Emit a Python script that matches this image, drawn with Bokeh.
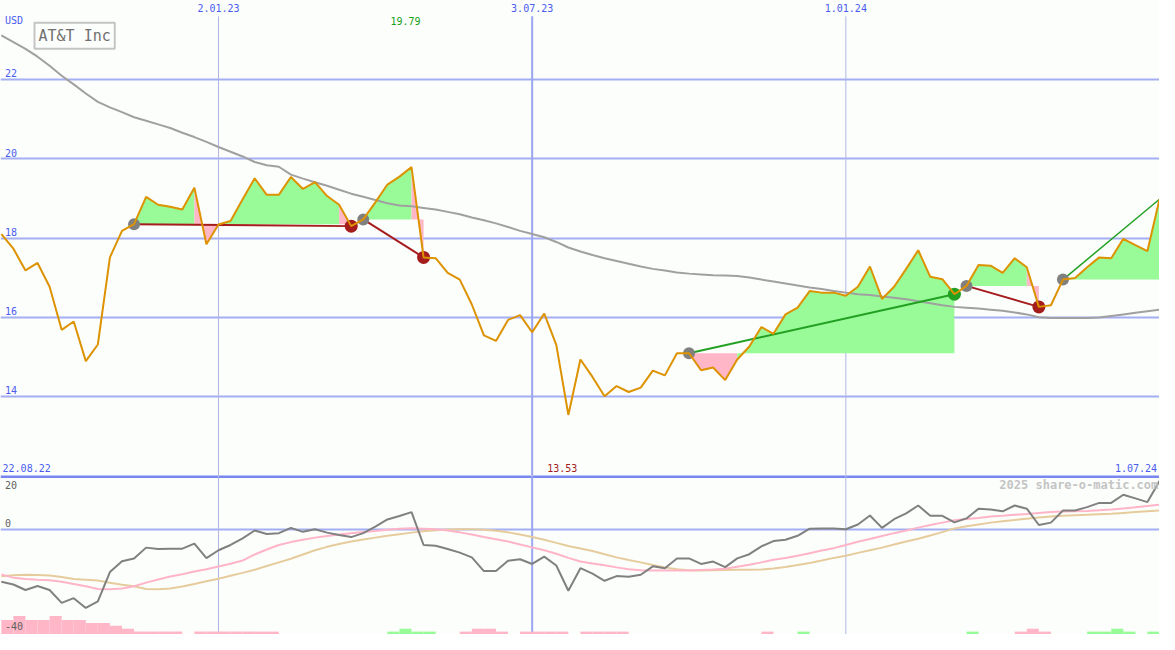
from bokeh.plotting import figure
from bokeh.models import Range1d, Grid, FixedTicker, Label
from bokeh.layouts import column
from bokeh.embed import file_html
from bokeh.resources import INLINE
from bokeh.core.properties import value

# ---------------- data (weekly points, index k = 0..96) ----------------
title = "AT&T Inc"
currency = "USD"
first_date = "22.08.22"
last_date = "1.07.24"
date_tick_k = [18, 44, 70]
date_tick_labels = ["2.01.23", "3.07.23", "1.01.24"]
price_ticks = [14, 16, 18, 20, 22]
osc_ticks = [20, 0, -40]
watermark = "2025 share-o-matic.com"

price = [18.10, 17.73, 17.18, 17.37, 16.77, 15.68, 15.89, 14.89, 15.31, 17.51,
         18.18, 18.35, 19.04, 18.84, 18.79, 18.72, 19.27, 17.84, 18.34, 18.43,
         18.98, 19.51, 19.09, 19.09, 19.54, 19.24, 19.41, 19.06, 18.84, 18.30,
         18.47, 18.90, 19.35, 19.55, 19.79, 17.51, 17.49, 17.12, 16.95, 16.32,
         15.54, 15.40, 15.93, 16.05, 15.62, 16.09, 15.30, 13.53, 14.93, 14.49,
         14.00, 14.26, 14.11, 14.22, 14.65, 14.53, 15.09, 15.09, 14.66, 14.73,
         14.41, 14.93, 15.26, 15.75, 15.58, 16.07, 16.24, 16.66, 16.62, 16.62,
         16.54, 16.77, 17.28, 16.46, 16.77, 17.22, 17.69, 17.02, 16.96, 16.58,
         16.79, 17.32, 17.30, 17.12, 17.49, 17.26, 16.26, 16.30, 16.95, 16.99,
         17.26, 17.51, 17.49, 17.98, 17.82, 17.67, 18.98]

ma = [23.12, 22.95, 22.78, 22.58, 22.35, 22.10, 21.88, 21.65, 21.44, 21.30,
      21.18, 21.05, 20.96, 20.87, 20.78, 20.66, 20.55, 20.43, 20.30, 20.18,
      20.06, 19.92, 19.84, 19.80, 19.60, 19.50, 19.41, 19.32, 19.22, 19.12,
      19.04, 18.96, 18.88, 18.82, 18.80, 18.76, 18.72, 18.66, 18.60, 18.52,
      18.45, 18.37, 18.28, 18.18, 18.10, 18.02, 17.90, 17.76, 17.66, 17.57,
      17.49, 17.42, 17.35, 17.28, 17.22, 17.18, 17.13, 17.10, 17.08, 17.06,
      17.05, 17.04, 17.00, 16.95, 16.90, 16.85, 16.80, 16.75, 16.71, 16.66,
      16.62, 16.58, 16.56, 16.52, 16.49, 16.45, 16.40, 16.35, 16.30, 16.26,
      16.24, 16.22, 16.19, 16.16, 16.12, 16.07, 16.00, 15.98, 15.98, 15.98,
      15.98, 15.99, 16.03, 16.07, 16.11, 16.15, 16.19]

osc = [-20.0, -21.0, -23.1, -21.6, -23.1, -28.0, -26.2, -29.9, -27.4, -16.3,
       -12.2, -11.1, -7.0, -7.5, -7.4, -7.4, -5.5, -11.0, -8.0, -6.0,
       -3.5, -0.5, -1.8, -1.5, 0.5, -1.0, 0.0, -1.3, -2.2, -3.0,
       -1.5, 1.0, 3.7, 5.0, 6.5, -6.0, -6.3, -7.5, -8.9, -10.7,
       -15.9, -15.9, -12.0, -11.4, -13.2, -10.4, -13.8, -23.4, -14.8, -16.9,
       -19.6, -17.8, -18.1, -17.3, -14.1, -14.8, -11.1, -11.1, -13.2, -12.3,
       -14.4, -11.1, -9.5, -6.5, -4.5, -4.0, -2.5, 0.2, 0.3, 0.3,
       0.0, 1.8, 5.2, 0.5, 3.8, 6.0, 9.0, 5.1, 5.1, 2.6,
       4.1, 7.8, 7.5, 6.8, 9.0, 7.8, 1.6, 2.5, 7.1, 7.1,
       8.4, 10.0, 10.0, 13.1, 11.7, 10.3, 18.3]

signal_fast = [-17.2, -18.4, -18.9, -19.2, -19.4, -20.0, -20.8, -21.7, -22.7, -22.8,
               -22.5, -21.7, -20.3, -19.1, -18.0, -17.1, -16.1, -15.2, -14.2, -13.1,
               -11.9, -9.6, -7.7, -6.0, -4.9, -4.0, -3.2, -2.6, -2.0, -1.5,
               -1.1, -0.7, -0.2, 0.2, 0.4, 0.2, 0.0, -0.5, -1.2, -2.0,
               -3.0, -3.8, -4.7, -5.8, -6.9, -8.0, -9.3, -10.9, -12.3, -13.0,
               -13.7, -14.5, -15.2, -15.6, -15.7, -15.7, -15.7, -15.7, -15.5, -15.3,
               -15.0, -14.3, -13.5, -12.6, -11.6, -10.9, -10.1, -9.1, -8.1, -7.2,
               -6.0, -4.8, -3.7, -2.6, -1.5, -0.5, 0.6, 1.6, 2.5, 3.4,
               3.9, 4.3, 4.8, 5.1, 5.5, 5.8, 6.2, 6.5, 6.7, 6.8,
               6.9, 7.2, 7.5, 7.9, 8.3, 8.8, 9.3]

signal_slow = [-17.9, -17.5, -17.3, -17.4, -17.6, -18.2, -18.9, -19.2, -19.5, -20.3,
               -21.1, -21.7, -22.7, -22.8, -22.5, -21.8, -20.8, -19.8, -18.8, -17.7,
               -16.6, -15.4, -14.0, -12.6, -11.2, -9.6, -8.0, -6.7, -5.6, -4.7,
               -3.9, -3.2, -2.5, -1.9, -1.3, -0.8, -0.4, -0.1, 0.0, 0.0,
               -0.2, -0.6, -1.2, -2.0, -3.0, -4.0, -5.2, -6.4, -7.3, -8.3,
               -9.5, -10.7, -11.7, -12.6, -13.6, -14.5, -15.2, -15.6, -15.7, -15.6,
               -15.5, -15.4, -15.4, -15.3, -14.9, -14.4, -13.6, -12.8, -11.9, -10.9,
               -10.1, -9.0, -8.0, -7.0, -5.8, -4.7, -3.6, -2.4, -1.1, 0.3,
               1.1, 1.8, 2.5, 3.0, 3.5, 4.0, 4.4, 4.8, 5.1, 5.3,
               5.5, 5.7, 5.9, 6.2, 6.5, 6.8, 7.1]

# histogram bars at the bottom (positive = green, negative = pink), one per week
hist = [-5.5, -7.0, -5.5, -5.5, -7.0, -5.5, -5.5, -4.4, -4.4, -3.3,
        -2.2, -1.1, -1.1, -1.1, -1.1, 0, -1.1, -1.1, -1.1, -1.1,
        -1.1, -1.1, -1.1, 0, 0, 0, 0, 0, 0, 0,
        0, 0, 1.1, 2.2, 1.1, 1.1, 0, 0, -1.1, -2.2,
        -2.2, -1.1, 0, -1.1, -1.1, -1.1, -1.1, 0, -1.1, -1.1,
        -1.1, -1.1, 0, 0, 0, 0, 0, 0, 0, 0,
        0, 0, 0, -1.1, 0, 0, 1.1, 0, 0, 0,
        0, 0, 0, 0, 0, 0, 0, 0, 0, 0,
        1.1, 0, 0, 0, -1.1, -2.2, -1.1, 0, 0, 0,
        1.1, 1.1, 2.2, 1.1, 0, 1.1]

# trades: entry index, exit index (last one still open)
trade_entry = [11, 30, 57, 80, 88]
trade_exit = [29, 35, 79, 86, 96]
last_trade_open = True

# ---------------- styling ----------------
BG = "#fcfefc"
GRID = "#a4aef2"
VGRID_THIN = "#b0b6e4"
VGRID_MID = "#9aa6f0"
LBL = "#4a5cf0"
GREEN_FILL = "#98fb98"
PINK_FILL = "#ffb6c6"
WIN = "#22a022"
LOSS = "#a41c1c"
MONO = "DejaVu Sans Mono"

W = 1159
H1 = 475
H2 = 159
N = len(price)
xr = (-0.07, N - 1.0)

# ---------------- main panel ----------------
p = figure(width=W, height=H1, x_range=Range1d(*xr), y_range=Range1d(12, 24),
           output_backend="svg", toolbar_location=None,
           x_axis_location=None, y_axis_location=None, min_border=0,
           background_fill_color=BG, border_fill_color=BG, outline_line_color=None)
p.center = [c for c in p.center if not isinstance(c, Grid)]
p.add_layout(Grid(dimension=1, ticker=FixedTicker(ticks=price_ticks),
                  grid_line_color=GRID, grid_line_width=2))
top_of_vlines = 23.6
vw = [1, 2, 1]
vc = [VGRID_THIN, VGRID_MID, VGRID_THIN]
p.segment(x0=date_tick_k, y0=[12] * 3, x1=date_tick_k, y1=[top_of_vlines] * 3,
          line_color=vc, line_width=vw)

# fills between price and entry level: one polygon per run of same-coloured weeks
xs, ys, cols = [], [], []
for e, x in zip(trade_entry, trade_exit):
    lvl = price[e]
    j = e
    while j < x:
        up = price[j + 1] >= lvl
        m = j
        while m + 1 < x and (price[m + 2] >= lvl) == up:
            m += 1
        px = list(range(j, m + 2))
        py = [price[i] for i in px]
        xs.append(px + [m + 1, j])
        ys.append(py + [lvl, lvl])
        cols.append(GREEN_FILL if up else PINK_FILL)
        j = m + 1
p.patches(xs=xs, ys=ys, fill_color=cols, line_color=None)

# moving average
p.line(list(range(N)), ma, line_color="#a0a0a0", line_width=2)

# trade lines
tcol = [WIN if price[x] >= price[e] else LOSS for e, x in zip(trade_entry, trade_exit)]
tw = [2] * len(trade_entry)
if last_trade_open:
    tw[-1] = 1.5
p.segment(x0=trade_entry, y0=[price[e] for e in trade_entry],
          x1=trade_exit, y1=[price[x] for x in trade_exit],
          line_color=tcol, line_width=tw)

closed = trade_exit[:-1] if last_trade_open else trade_exit
p.scatter(x=trade_entry, y=[price[e] for e in trade_entry], size=12,
          fill_color="#808080", line_color=None)
p.scatter(x=closed, y=[price[x] for x in closed], size=13,
          fill_color=tcol[:len(closed)], line_color=None)

# price
p.line(list(range(N)), price, line_color="#dd9200", line_width=2)

# labels
p.text(x=[0.3] * len(price_ticks), y=[t + 0.16 for t in price_ticks],
       text=[str(t) for t in price_ticks], text_font=value(MONO),
       text_font_size="10px", text_color=LBL, text_align="left", text_baseline="middle")
p.text(x=[0.3], y=[23.5], text=[currency], text_font=value(MONO),
       text_font_size="10px", text_color=LBL, text_align="left", text_baseline="middle")
p.text(x=date_tick_k, y=[23.8] * len(date_tick_k), text=date_tick_labels,
       text_font=value(MONO), text_font_size="10px", text_color=LBL,
       text_align="center", text_baseline="middle")
p.text(x=[0.1], y=[12.2], text=[first_date], text_font=value(MONO),
       text_font_size="10px", text_color=LBL, text_align="left", text_baseline="middle")
p.text(x=[N - 1.2], y=[12.2], text=[last_date], text_font=value(MONO),
       text_font_size="10px", text_color=LBL, text_align="right", text_baseline="middle")
imax = price.index(max(price))
imin = price.index(min(price))
p.text(x=[imax - 0.5], y=[23.48], text=[f"{max(price):.2f}"], text_font=value(MONO),
       text_font_size="10px", text_color="#18a018", text_align="center", text_baseline="middle")
p.text(x=[imin - 0.5], y=[12.2], text=[f"{min(price):.2f}"], text_font=value(MONO),
       text_font_size="10px", text_color=LOSS, text_align="center", text_baseline="middle")

p.add_layout(Label(x=2.75, y=23.11, text=title, text_font=MONO, text_font_size="15px",
                   text_color="#707070", text_baseline="middle", text_align="left",
                   border_line_color="#c4c4c4", border_line_width=2, padding=4))

# ---------------- oscillator panel ----------------
q = figure(width=W, height=H2, x_range=p.x_range, y_range=Range1d(-40, 20.4),
           output_backend="svg", toolbar_location=None,
           x_axis_location=None, y_axis_location=None, min_border=0,
           background_fill_color=BG, border_fill_color=BG, outline_line_color=None)
q.center = [c for c in q.center if not isinstance(c, Grid)]
q.add_layout(Grid(dimension=1, ticker=FixedTicker(ticks=[0]),
                  grid_line_color=GRID, grid_line_width=2))
q.add_layout(Grid(dimension=1, ticker=FixedTicker(ticks=[20]),
                  grid_line_color="#7888f0", grid_line_width=3))
q.segment(x0=date_tick_k, y0=[-40] * 3, x1=date_tick_k, y1=[20.4] * 3,
          line_color=vc, line_width=vw)

hk = [k for k, v in enumerate(hist) if v != 0]
q.quad(left=hk, right=[k + 1 for k in hk], bottom=[-40] * len(hk),
       top=[-40 + abs(hist[k]) for k in hk],
       fill_color=[GREEN_FILL if hist[k] > 0 else PINK_FILL for k in hk], line_color=None)

q.line(list(range(N)), signal_slow, line_color="#e6cc9c", line_width=2)
q.line(list(range(N)), signal_fast, line_color="#ffb4c8", line_width=2)
q.line(list(range(N)), osc, line_color="#808080", line_width=2)

q.text(x=[0.3, 0.3, 0.3], y=[16.7, 2.3, -36.6], text=[str(t) for t in osc_ticks],
       text_font=value(MONO), text_font_size="10px", text_color="#606060",
       text_align="left", text_baseline="middle")
q.text(x=[N - 1.1], y=[16.7], text=[watermark], text_font=value(MONO),
       text_font_size="12px", text_font_style="bold", text_color="#c4c4c4",
       text_align="right", text_baseline="middle")

layout = column(p, q, spacing=0)
open("out.html", "w").write(file_html(layout, INLINE))
